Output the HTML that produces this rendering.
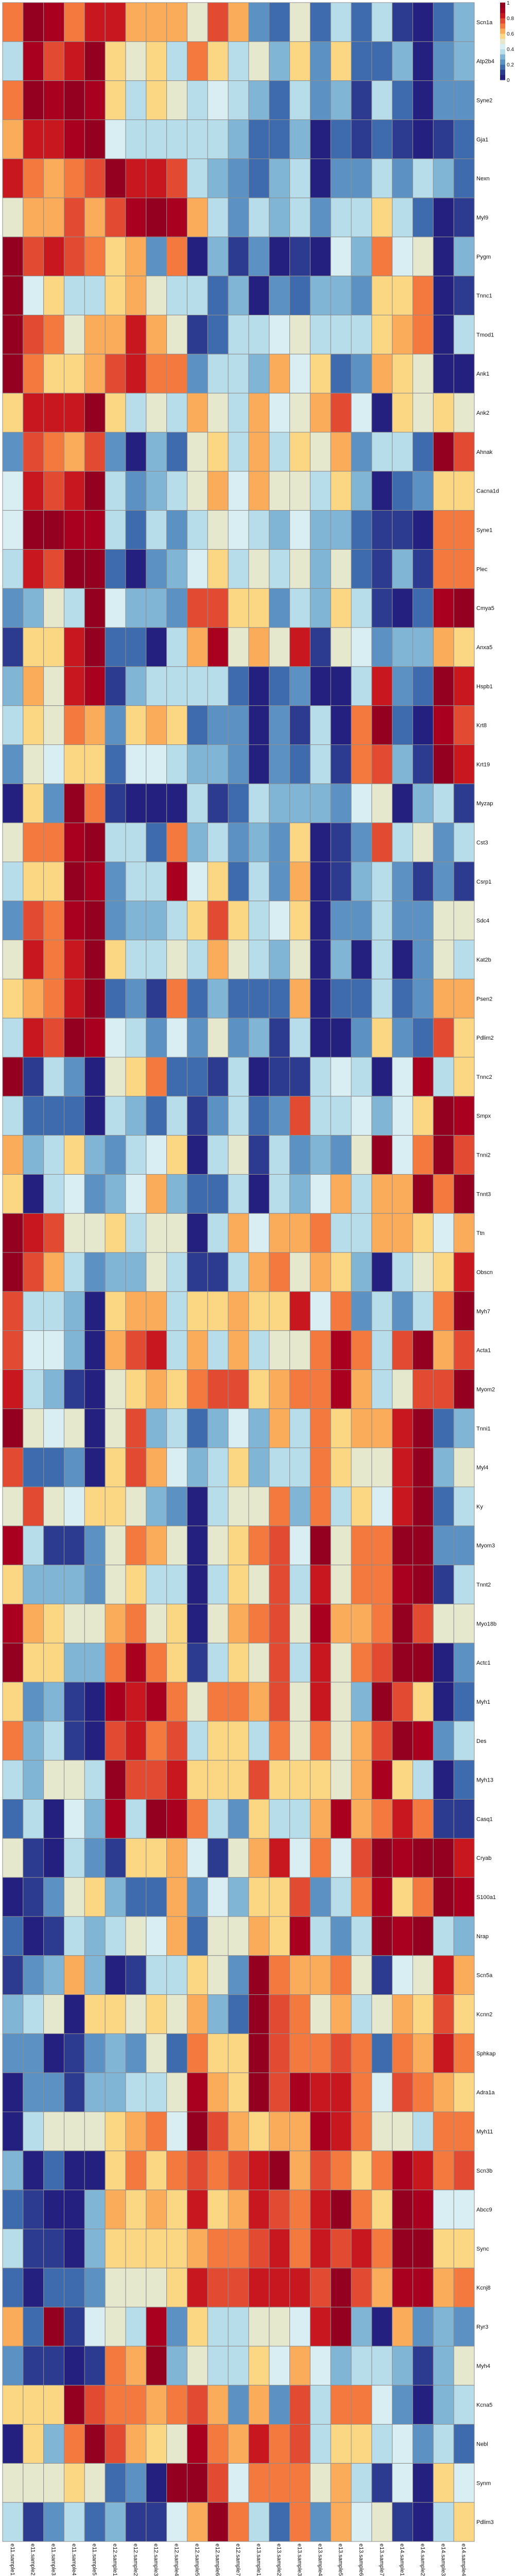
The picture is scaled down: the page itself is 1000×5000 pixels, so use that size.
<!DOCTYPE html>
<html><head><meta charset="utf-8">
<style>
html,body{margin:0;padding:0;background:#fff;width:1000px;height:5000px;overflow:hidden}
svg{display:block}
text{font-family:"Liberation Sans",sans-serif;fill:#111}
</style></head>
<body>
<svg id="chart" width="1000" height="5000" xmlns="http://www.w3.org/2000/svg">
<g id="cells"></g>
<g id="rowlabels"></g>
<g id="collabels"></g>
<g id="legend"></g>
</svg>
<script>
const samples = ["e11.sample1","e11.sample2","e11.sample3","e11.sample4","e11.sample5","e12.sample1","e12.sample2","e12.sample3","e12.sample4","e12.sample5","e12.sample6","e12.sample7","e13.sample1","e13.sample2","e13.sample3","e13.sample4","e13.sample5","e13.sample6","e13.sample7","e14.sample1","e14.sample2","e14.sample3","e14.sample4"];
const genes = ["Scn1a","Atp2b4","Syne2","Gja1","Nexn","Myl9","Pygm","Tnnc1","Tmod1","Ank1","Ank2","Ahnak","Cacna1d","Syne1","Plec","Cmya5","Anxa5","Hspb1","Krt8","Krt19","Myzap","Cst3","Csrp1","Sdc4","Kat2b","Psen2","Pdlim2","Tnnc2","Smpx","Tnni2","Tnnt3","Ttn","Obscn","Myh7","Acta1","Myom2","Tnni1","Myl4","Ky","Myom3","Tnnt2","Myo18b","Actc1","Myh1","Des","Myh13","Casq1","Cryab","S100a1","Nrap","Scn5a","Kcnn2","Sphkap","Adra1a","Myh11","Scn3b","Abcc9","Sync","Kcnj8","Ryr3","Myh4","Kcna5","Nebl","Synm","Pdlim3"];
// expression levels, 0 (low) .. 14 (high)
const levels = [
[10,14,13,10,12,12,9,9,9,7,11,9,3,2,7,2,5,2,5,1,0,2,4],
[5,13,11,12,14,8,7,8,5,10,8,5,7,4,8,3,8,2,2,4,0,3,4],
[10,14,13,14,13,8,5,8,7,5,6,5,4,2,5,3,4,1,5,2,0,3,3],
[9,12,12,13,14,6,5,5,5,5,5,4,2,2,4,0,2,1,2,1,0,1,2],
[12,10,9,10,11,14,12,12,11,5,4,3,2,4,5,0,3,3,5,3,5,4,2],
[7,9,9,11,9,11,13,14,13,9,5,3,5,4,5,3,5,5,8,5,2,0,1],
[14,11,12,11,10,8,9,3,10,0,4,1,3,0,1,0,6,4,10,6,7,0,4],
[14,6,8,5,5,8,9,7,5,5,2,4,0,3,2,4,4,3,8,8,10,0,1],
[14,11,10,7,9,9,12,9,7,1,2,5,5,6,7,5,5,5,8,9,10,0,5],
[14,10,8,8,9,11,12,10,10,3,5,5,4,9,6,8,2,3,9,8,7,0,0],
[8,12,12,12,14,8,5,7,5,9,7,5,9,6,7,9,11,6,0,8,7,8,7],
[3,11,10,9,11,3,0,4,2,7,8,5,9,5,8,7,9,3,5,5,2,14,11],
[6,12,11,12,14,5,3,4,5,7,9,6,9,7,7,5,8,4,0,2,3,8,8],
[6,14,14,13,13,5,2,5,3,5,7,6,5,4,6,4,4,2,1,1,0,10,10],
[5,12,11,14,14,2,0,3,4,6,8,5,7,5,7,4,7,2,1,4,1,10,10],
[3,4,7,5,14,6,4,4,3,11,11,8,8,3,5,4,8,5,1,0,2,13,14],
[1,8,8,12,14,2,2,0,5,9,13,7,9,7,12,1,7,6,3,4,4,9,8],
[4,9,7,12,13,1,4,5,5,5,5,2,0,2,3,0,0,5,12,3,2,14,12],
[5,8,7,10,9,3,8,9,8,2,3,3,0,3,1,5,0,10,14,2,0,13,11],
[3,7,6,8,8,2,6,6,5,4,4,3,0,3,2,5,1,10,11,4,1,14,12],
[0,8,3,14,10,1,0,0,0,5,1,2,5,4,4,4,3,6,7,0,4,5,1],
[7,10,10,13,14,5,5,2,10,4,5,3,4,3,8,0,1,3,11,5,7,3,5],
[5,8,8,14,13,3,5,5,13,6,8,2,5,3,9,0,1,4,5,3,1,3,1],
[3,11,10,13,14,3,4,4,5,8,11,8,5,6,8,0,3,3,5,3,3,7,7],
[7,12,10,12,14,8,5,5,7,5,9,7,5,4,7,0,4,0,5,0,3,7,5],
[8,9,10,12,14,2,3,1,10,2,4,2,2,2,9,0,2,2,5,2,3,9,9],
[5,12,11,14,13,6,5,3,6,3,7,3,4,1,5,0,0,3,8,3,2,11,8],
[14,1,5,3,0,7,8,10,2,2,1,5,0,1,1,5,6,5,0,6,13,5,8],
[5,2,2,2,0,5,4,2,5,1,3,5,2,3,11,5,5,6,4,6,8,14,13],
[9,4,5,8,4,3,5,6,8,0,5,7,1,5,3,4,3,7,14,6,10,14,11],
[8,0,5,6,3,4,6,9,4,2,2,5,0,5,4,6,9,5,9,9,14,10,14],
[14,12,11,7,7,8,5,7,7,0,5,9,6,9,9,10,5,5,9,9,8,6,9],
[14,11,9,5,3,4,4,7,5,1,1,5,9,10,7,9,8,4,0,5,7,8,12],
[11,5,5,4,0,8,9,9,5,8,8,9,8,8,12,6,10,3,5,3,5,10,14],
[11,6,6,4,0,9,11,12,5,9,5,9,5,7,7,10,13,10,5,11,14,9,11],
[12,5,4,1,0,7,8,9,8,10,11,11,8,9,10,10,13,9,5,7,11,11,14],
[14,7,6,7,0,7,11,4,5,2,4,6,4,9,5,10,8,9,9,12,14,2,4],
[11,2,2,3,0,8,11,9,6,4,5,8,4,5,5,10,8,7,7,12,14,4,7],
[7,11,7,6,8,8,7,4,3,0,5,7,7,10,4,10,5,8,6,12,14,2,5],
[13,5,1,1,3,7,10,9,7,0,7,8,10,11,6,14,7,10,10,14,14,3,3],
[8,4,4,4,3,7,8,5,5,0,5,8,7,11,5,12,7,10,10,13,14,1,5],
[13,9,8,7,7,9,10,7,8,0,7,9,10,11,7,13,9,9,10,14,11,7,7],
[14,8,8,4,4,10,13,10,8,1,5,8,7,11,5,12,7,10,11,14,14,0,3],
[8,3,4,1,0,13,12,13,10,7,10,10,9,11,7,12,7,4,14,11,8,0,2],
[10,4,5,1,0,11,12,10,11,5,8,8,5,10,7,10,7,9,11,14,13,3,5],
[5,4,7,7,5,14,11,11,12,8,8,8,11,8,8,8,7,9,13,8,5,0,2],
[2,5,0,6,4,13,5,14,13,10,5,3,8,5,5,9,13,9,10,12,10,1,1],
[7,1,0,5,3,1,8,8,9,6,1,7,9,12,6,10,6,11,14,13,14,14,12],
[0,1,3,7,8,4,2,2,9,3,6,4,8,8,11,3,5,10,13,8,10,14,13],
[2,0,1,5,4,5,7,6,9,2,7,7,9,8,13,5,3,5,14,13,14,5,4],
[1,3,4,9,4,0,1,5,5,8,7,3,14,10,9,9,10,7,1,6,7,12,9],
[4,5,7,0,8,8,7,8,7,9,4,2,14,11,10,7,9,5,7,9,8,11,8],
[3,3,0,1,3,4,3,7,2,10,8,8,14,11,10,10,11,10,2,10,9,12,10],
[0,3,3,1,4,4,5,5,7,13,9,8,14,11,13,12,12,10,6,11,10,9,8],
[0,5,7,7,7,8,9,10,6,14,11,9,8,9,9,13,12,10,7,7,5,10,10],
[4,0,2,0,0,8,10,8,10,11,10,11,12,14,9,11,10,8,10,13,12,10,11],
[2,1,0,0,4,9,8,9,8,12,8,9,12,11,10,12,14,10,8,14,13,6,6],
[5,1,1,0,4,8,8,8,8,9,10,10,11,12,10,12,11,12,10,14,14,8,8],
[2,0,2,2,3,7,7,7,8,12,11,11,12,12,12,11,14,11,9,13,13,9,10],
[9,2,14,1,6,7,5,13,3,8,5,5,7,7,6,12,14,4,0,9,3,4,3],
[3,1,1,0,1,10,9,14,4,7,5,5,8,6,9,6,4,5,5,4,1,4,7],
[8,8,8,14,11,10,10,9,10,11,9,3,9,3,11,5,10,10,6,3,0,4,5],
[0,8,4,10,14,11,9,8,7,13,10,9,12,10,11,5,8,8,5,6,3,5,2],
[7,7,7,8,7,2,3,0,14,14,11,6,10,10,10,7,9,5,1,6,0,8,6],
[5,1,3,5,2,4,1,1,6,9,14,10,5,2,10,3,9,6,7,1,0,5,8]
];
const levelMax = 14;
const legendTicks = [0, 0.2, 0.4, 0.6, 0.8, 1];
const legendTickLabels = ["0","0.2","0.4","0.6","0.8","1"];

const palette = ["#232080","#2c3a90","#3e6aae","#5b92c3","#80b5d5","#b7ddea","#d9eef2","#e6e8cd","#fbd683","#faac5b","#f4793f","#e24a31","#c8171e","#aa0020","#930020"];
const NS = "http://www.w3.org/2000/svg";
const X0 = 5, X1 = 921, Y0 = 5, Y1 = 4933;
const cw = (X1 - X0) / samples.length;
const rh = (Y1 - Y0) / genes.length;
function xPos(i){ return X0 + i * cw; }
function yPos(j){ return Y0 + j * rh; }
function colorFor(v){
  const t = Math.max(0, Math.min(1, v / levelMax));
  return palette[Math.round(t * (palette.length - 1))];
}
function mk(tag, attrs, parent){
  const e = document.createElementNS(NS, tag);
  for (const k in attrs) e.setAttribute(k, attrs[k]);
  parent.appendChild(e);
  return e;
}
const gCells = document.getElementById('cells');
levels.forEach((row, j) => {
  row.forEach((v, i) => {
    const r = mk('rect', {x: xPos(i), y: yPos(j), width: cw, height: rh, fill: colorFor(v), stroke: '#8e8e8e', 'stroke-width': 1}, gCells);
    
    
  });
});
const gRow = document.getElementById('rowlabels');
genes.forEach((g, j) => {
  const t = mk('text', {x: 925, y: yPos(j) + rh / 2 + 4, 'font-size': 11}, gRow);
  t.textContent = g;
  
  
});
const gCol = document.getElementById('collabels');
samples.forEach((s, i) => {
  const cx = xPos(i) + cw / 2 - 4;
  const t = mk('text', {x: cx, y: Y1 + 4, 'font-size': 11, transform: 'rotate(90 ' + cx + ' ' + (Y1 + 4) + ')'}, gCol);
  t.textContent = s;
  
  
});
const gLeg = document.getElementById('legend');
const LX = 971, LW = 10, LT = 5, LB = 155;
const n = palette.length;
for (let k = 0; k < n; k++) {
  const h = (LB - LT) / n;
  const r = mk('rect', {x: LX, y: LB - (k + 1) * h, width: LW, height: h + 0.5, fill: palette[k]}, gLeg);
  
  
}
legendTicks.forEach((tv, k) => {
  const y = LB - tv * (LB - LT);
  const t = mk('text', {x: 984, y: y + 4, 'font-size': 10}, gLeg);
  t.textContent = legendTickLabels[k];
  
  
});
</script>
</body></html>
